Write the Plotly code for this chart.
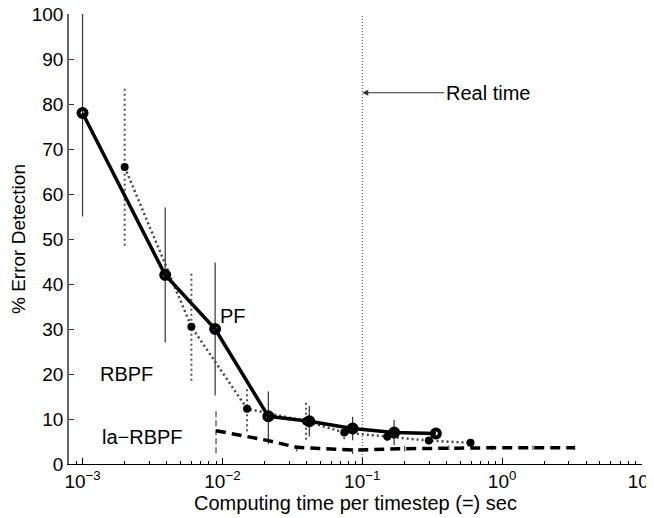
import math
import plotly.graph_objects as go

# ---------------- data ----------------
pf_x = [0.001, 0.0039, 0.00887, 0.0213, 0.0418, 0.0853, 0.169, 0.336]
pf_y = [78, 42, 30, 10.6, 9.5, 7.9, 7.0, 6.8]
pf_err = [23, 15, 14.8, 5.5, 3.4, 2.6, 2.8, 0]

rbpf_x = [0.002, 0.006, 0.015, 0.0396, 0.0743, 0.151, 0.299, 0.594]
rbpf_y = [66, 30.5, 12.3, 9.5, 7.0, 6.1, 5.2, 4.7]
rbpf_err = [17.5, 12, 5, 4.1, 1.5, 1.0, 0.8, 0.5]

la_x = [0.009, 0.0213, 0.034, 0.0853, 0.201, 0.416, 0.843, 1.66, 3.3]
la_y = [7.4, 5.2, 3.7, 3.1, 3.4, 3.6, 3.6, 3.6, 3.6]
la_err = [5, 0.8, 0.9, 0.9, 0.6, 0.5, 0.5, 0.5, 0.5]

real_time = 0.1
x_tick_vals = [0.001, 0.01, 0.1, 1, 10]
x_tick_text = ["10<sup>−3</sup>", "10<sup>−2</sup>", "10<sup>−1</sup>", "10<sup>0</sup>", "10<sup>1</sup>"]
y_tick_vals = [0, 10, 20, 30, 40, 50, 60, 70, 80, 90, 100]

labels = [("PF", 0.0119, 33), ("RBPF", 0.00205, 20), ("la−RBPF", 0.00267, 6)]
x_title = "Computing time per timestep (=) sec"
y_title = "% Error Detection"

FONT = "Liberation Sans, Arial, Helvetica, sans-serif"


def bars(xs, ys, es):
    bx, by = [], []
    for x, y, e in zip(xs, ys, es):
        bx += [x, x, None]
        by += [y - e, y + e, None]
    return bx, by


fig = go.Figure()

# real time vertical line
fig.add_trace(go.Scatter(x=[real_time, real_time], y=[0, 100], mode="lines",
                         line=dict(color="#444", width=1, dash="1px,2px"),
                         hoverinfo="skip", showlegend=False))

# error bars
bx, by = bars(rbpf_x, rbpf_y, rbpf_err)
fig.add_trace(go.Scatter(x=bx, y=by, mode="lines",
                         line=dict(color="#555", width=2, dash="2px,3px"),
                         showlegend=False, hoverinfo="skip"))
bx, by = bars(la_x, la_y, la_err)
fig.add_trace(go.Scatter(x=bx, y=by, mode="lines",
                         line=dict(color="#444", width=1.2, dash="6px,3px"),
                         showlegend=False, hoverinfo="skip"))
bx, by = bars(pf_x, pf_y, pf_err)
fig.add_trace(go.Scatter(x=bx, y=by, mode="lines",
                         line=dict(color="#333", width=1.2),
                         showlegend=False, hoverinfo="skip"))

# RBPF
fig.add_trace(go.Scatter(x=rbpf_x, y=rbpf_y, mode="lines+markers", name="RBPF",
                         line=dict(color="#444", width=2.5, dash="2px,3px"),
                         marker=dict(symbol="circle", size=8, color="black"),
                         showlegend=False))
# la-RBPF
fig.add_trace(go.Scatter(x=la_x, y=la_y, mode="lines", name="la-RBPF",
                         line=dict(color="black", width=3.5, dash="10px,6px"),
                         showlegend=False))
# PF
fig.add_trace(go.Scatter(x=pf_x, y=pf_y, mode="lines+markers", name="PF",
                         line=dict(color="black", width=3.5),
                         marker=dict(symbol="circle-open", size=8, color="black",
                                     line=dict(width=4, color="black")),
                         showlegend=False))

annotations = []
for txt, lx, ly in labels:
    annotations.append(dict(x=math.log10(lx), y=ly, xref="x", yref="y", text=txt,
                            showarrow=False, font=dict(family=FONT, size=20, color="black")))
annotations.append(dict(x=math.log10(real_time), y=82.5, xref="x", yref="y",
                        text="Real time", showarrow=True, ax=82, ay=0,
                        xanchor="left", arrowhead=2, arrowsize=1, arrowwidth=1.2,
                        arrowcolor="#333", font=dict(family=FONT, size=20, color="black")))

minor_vals = [k * 10 ** e for e in range(-4, 1) for k in range(2, 10)
              if 8e-4 <= k * 10 ** e <= 10]

fig.update_layout(
    width=654, height=518,
    margin=dict(l=61, r=20, t=6, b=62),
    plot_bgcolor="white", paper_bgcolor="white",
    font=dict(family=FONT, size=19, color="black"),
    annotations=annotations,
    xaxis=dict(type="log", range=[math.log10(8e-4), 1], automargin=False,
               tickmode="array", tickvals=x_tick_vals, ticktext=x_tick_text,
               ticks="inside", ticklen=6, tickcolor="black",
               ticklabeloverflow="allow",
               showline=True, linecolor="black", linewidth=1,
               showgrid=False, zeroline=False,
               minor=dict(tickmode="array", tickvals=minor_vals, ticks="inside",
                          ticklen=3, tickcolor="black", showgrid=False),
               title=dict(text=x_title, font=dict(size=20), standoff=0),
               tickfont=dict(size=19)),
    yaxis=dict(range=[0, 100], tickmode="array", tickvals=y_tick_vals, automargin=False,
               ticks="inside", ticklen=5, tickcolor="#333",
               ticklabeloverflow="allow",
               showline=True, linecolor="#666", linewidth=1.5,
               showgrid=False, zeroline=False,
               title=dict(text=y_title, font=dict(size=19), standoff=10),
               tickfont=dict(size=19)),
)

fig.write_html("out.html")
